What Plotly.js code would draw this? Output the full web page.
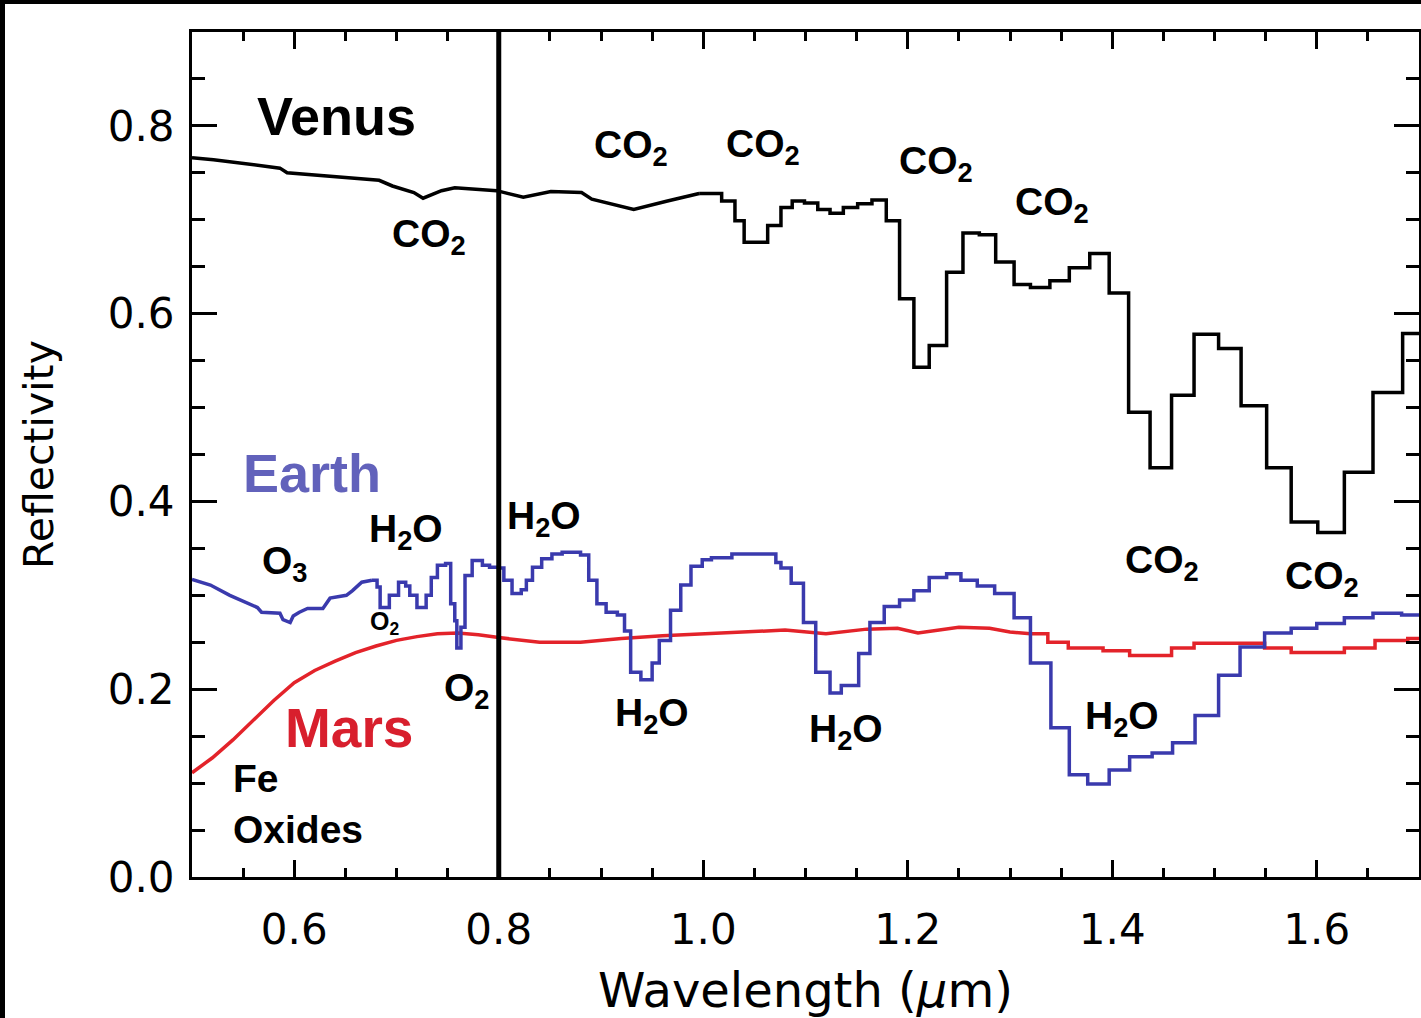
<!DOCTYPE html>
<html>
<head>
<meta charset="utf-8">
<script src="https://cdn.plot.ly/plotly-3.0.1.min.js"></script>
<style>
  html, body { margin: 0; padding: 0; background: #000; width: 1421px; height: 1018px; overflow: hidden; }
  #chart { position: absolute; left: 5px; top: 4px; width: 1416px; height: 1014px; background: #fff; }
</style>
</head>
<body>
<div id="chart"></div>
<script>
// ---- Venus (black) ----
const venusSmoothWl = [0.500, 0.521, 0.586, 0.593, 0.683, 0.696, 0.717, 0.726, 0.744, 0.757, 0.798, 0.824, 0.851, 0.881, 0.891, 0.932, 0.965, 0.996];
const venusSmoothR  = [0.766, 0.764, 0.755, 0.750, 0.742, 0.736, 0.729, 0.723, 0.731, 0.734, 0.731, 0.724, 0.730, 0.729, 0.722, 0.711, 0.720, 0.728];
const venusStepWl = [0.996, 1.018, 1.031, 1.040, 1.063, 1.076, 1.087, 1.099, 1.112, 1.124, 1.137, 1.151, 1.165, 1.179, 1.192, 1.206, 1.221, 1.238, 1.254, 1.270, 1.286, 1.304, 1.320, 1.339, 1.358, 1.378, 1.397, 1.416, 1.437, 1.458, 1.480, 1.504, 1.526, 1.551, 1.575, 1.601, 1.627, 1.655, 1.684, 1.700];
const venusStepR  = [0.728, 0.720, 0.699, 0.676, 0.694, 0.713, 0.720, 0.718, 0.711, 0.707, 0.713, 0.717, 0.721, 0.699, 0.616, 0.543, 0.566, 0.644, 0.686, 0.684, 0.655, 0.631, 0.628, 0.635, 0.649, 0.664, 0.622, 0.495, 0.436, 0.513, 0.578, 0.563, 0.502, 0.436, 0.378, 0.367, 0.431, 0.516, 0.579, 0.579];

// ---- Earth (blue) ----
const earthSmoothWl = [0.500, 0.518, 0.537, 0.564, 0.568, 0.586, 0.589, 0.596, 0.599, 0.605, 0.613, 0.628, 0.635, 0.651, 0.657, 0.666, 0.676];
const earthSmoothR  = [0.317, 0.311, 0.300, 0.287, 0.282, 0.281, 0.274, 0.271, 0.278, 0.282, 0.286, 0.286, 0.297, 0.300, 0.305, 0.314, 0.316];
const earthStepWl = [0.676, 0.681, 0.684, 0.693, 0.702, 0.709, 0.713, 0.720, 0.729, 0.734, 0.740, 0.748, 0.753, 0.757, 0.759, 0.763, 0.767, 0.774, 0.784, 0.791, 0.800, 0.805, 0.813, 0.822, 0.827, 0.833, 0.842, 0.852, 0.862, 0.880, 0.888, 0.896, 0.905, 0.916, 0.923, 0.929, 0.939, 0.950, 0.957, 0.968, 0.978, 0.988, 0.999, 1.008, 1.028, 1.061, 1.071, 1.076, 1.086, 1.098, 1.110, 1.124, 1.135, 1.152, 1.163, 1.177, 1.192, 1.206, 1.221, 1.238, 1.252, 1.268, 1.285, 1.304, 1.320, 1.340, 1.358, 1.376, 1.397, 1.417, 1.439, 1.459, 1.481, 1.504, 1.525, 1.549, 1.575, 1.600, 1.627, 1.655, 1.683, 1.700];
const earthStepR  = [0.316, 0.309, 0.287, 0.300, 0.314, 0.310, 0.300, 0.287, 0.300, 0.319, 0.332, 0.334, 0.291, 0.273, 0.244, 0.266, 0.321, 0.337, 0.332, 0.330, 0.329, 0.316, 0.302, 0.306, 0.316, 0.330, 0.339, 0.344, 0.346, 0.343, 0.316, 0.291, 0.282, 0.279, 0.262, 0.218, 0.210, 0.228, 0.252, 0.284, 0.311, 0.331, 0.338, 0.340, 0.344, 0.344, 0.335, 0.329, 0.313, 0.271, 0.218, 0.196, 0.204, 0.238, 0.271, 0.288, 0.295, 0.305, 0.319, 0.323, 0.316, 0.310, 0.302, 0.276, 0.228, 0.159, 0.109, 0.099, 0.114, 0.128, 0.132, 0.143, 0.172, 0.215, 0.245, 0.260, 0.265, 0.270, 0.276, 0.281, 0.279, 0.279];

// ---- Mars (red) ----
const marsSmoothWl = [0.50, 0.52, 0.54, 0.56, 0.58, 0.60, 0.62, 0.64, 0.66, 0.68, 0.70, 0.72, 0.74, 0.76, 0.78, 0.80, 0.84, 0.88, 0.92, 0.96, 1.00, 1.04, 1.08, 1.12, 1.16, 1.19, 1.21, 1.25, 1.28, 1.30, 1.32];
const marsSmoothR  = [0.111, 0.127, 0.146, 0.167, 0.188, 0.207, 0.220, 0.230, 0.239, 0.246, 0.252, 0.256, 0.259, 0.260, 0.258, 0.255, 0.250, 0.250, 0.254, 0.257, 0.259, 0.261, 0.263, 0.259, 0.264, 0.265, 0.260, 0.266, 0.265, 0.261, 0.259];
const marsStepWl = [1.320, 1.337, 1.357, 1.391, 1.417, 1.458, 1.480, 1.549, 1.575, 1.627, 1.657, 1.689, 1.700];
const marsStepR  = [0.259, 0.250, 0.244, 0.241, 0.236, 0.244, 0.249, 0.244, 0.239, 0.244, 0.252, 0.254, 0.254];

// ---- labels ----
const labelText = ['Venus', 'CO<sub>2</sub>', 'CO<sub>2</sub>', 'CO<sub>2</sub>', 'CO<sub>2</sub>', 'CO<sub>2</sub>', 'CO<sub>2</sub>', 'CO<sub>2</sub>',
                   'Earth', 'O<sub>3</sub>', 'H<sub>2</sub>O', 'H<sub>2</sub>O', 'O<sub>2</sub>', 'O<sub>2</sub>', 'H<sub>2</sub>O', 'H<sub>2</sub>O', 'H<sub>2</sub>O',
                   'Mars', 'Fe<br>Oxides'];
const labelWl = [0.5620, 0.6940, 0.8910, 1.0200, 1.1897, 1.3029, 1.4102, 1.5673,
                 0.5478, 0.5663, 0.6707, 0.8063, 0.6717, 0.7449, 0.9117, 1.1019, 1.3712,
                 0.5887, 0.5380];
const labelR  = [0.8106, 0.682, 0.7766, 0.7777, 0.7596, 0.716, 0.335, 0.318,
                 0.4298, 0.334, 0.368, 0.382, 0.271, 0.199, 0.172, 0.155, 0.169,
                 0.1585, 0.0777];

const BLACK = '#000000', EARTH_LINE = '#3a3aad', EARTH_TXT = '#6262bb', MARS_LINE = '#e3232a', MARS_TXT = '#d81f2d';
const labelColor = [BLACK, BLACK, BLACK, BLACK, BLACK, BLACK, BLACK, BLACK,
                    EARTH_TXT, BLACK, BLACK, BLACK, BLACK, BLACK, BLACK, BLACK, BLACK,
                    MARS_TXT, BLACK];
const labelSize = [54, 39, 39, 39, 39, 39, 39, 39,
                   54, 39, 39, 39, 25, 39, 39, 39, 39,
                   55, 39];

function tr(x, y, color, shape) {
  return {x: x, y: y, type: 'scatter', mode: 'lines', line: {color: color, width: 3.5, shape: shape}, hoverinfo: 'skip', showlegend: false};
}

const data = [
  tr(marsSmoothWl, marsSmoothR, MARS_LINE, 'linear'),
  tr(marsStepWl, marsStepR, MARS_LINE, 'hv'),
  tr(earthSmoothWl, earthSmoothR, EARTH_LINE, 'linear'),
  tr(earthStepWl, earthStepR, EARTH_LINE, 'hv'),
  tr(venusSmoothWl, venusSmoothR, BLACK, 'linear'),
  tr(venusStepWl, venusStepR, BLACK, 'hv')
];

const annotations = labelText.map((t, i) => ({
  x: labelWl[i], y: labelR[i], xref: 'x', yref: 'y', text: t, showarrow: false,
  xanchor: 'left', yanchor: 'middle', align: 'left',
  font: {family: 'Liberation Sans, Arial, sans-serif', size: labelSize[i], color: labelColor[i], weight: 'bold'}
}));

const tickFont = {family: 'DejaVu Sans, sans-serif', size: 42, color: '#000'};

const layout = {
  width: 1416, height: 1014,
  margin: {l: 187, r: 2, t: 28, b: 141},
  paper_bgcolor: '#ffffff', plot_bgcolor: '#ffffff',
  showlegend: false,
  xaxis: {
    range: [0.5, 1.7], showgrid: false, zeroline: false,
    showline: true, linecolor: '#000', linewidth: 3, mirror: 'allticks',
    ticks: 'inside', ticklen: 17, tickwidth: 3, tickcolor: '#000',
    tick0: 0.6, dtick: 0.2, tickformat: '.1f',
    minor: {dtick: 0.05, tick0: 0.5, ticks: 'inside', ticklen: 9, tickwidth: 3, tickcolor: '#000', showgrid: false},
    tickfont: tickFont, ticklabelstandoff: 14,
    title: {text: 'Wavelength (<i>μ</i>m)', font: {family: 'DejaVu Sans, sans-serif', size: 48, color: '#000'}, standoff: 26}
  },
  yaxis: {
    range: [0, 0.9], showgrid: false, zeroline: false,
    showline: true, linecolor: '#000', linewidth: 3, mirror: 'allticks',
    ticks: 'inside', ticklen: 25, tickwidth: 3, tickcolor: '#000',
    tick0: 0, dtick: 0.2, tickformat: '.1f',
    minor: {dtick: 0.05, tick0: 0, ticks: 'inside', ticklen: 13, tickwidth: 3, tickcolor: '#000', showgrid: false},
    tickfont: tickFont, ticklabelstandoff: 6,
    title: {text: 'Reflectivity', font: {family: 'DejaVu Sans, sans-serif', size: 41, color: '#000'}, standoff: 42}
  },
  shapes: [
    {type: 'line', xref: 'x', yref: 'paper', x0: 0.8, x1: 0.8, y0: 0, y1: 1, line: {color: '#000', width: 5}}
  ],
  annotations: annotations
};

Plotly.newPlot('chart', data, layout, {staticPlot: true, displayModeBar: false});
</script>
</body>
</html>
